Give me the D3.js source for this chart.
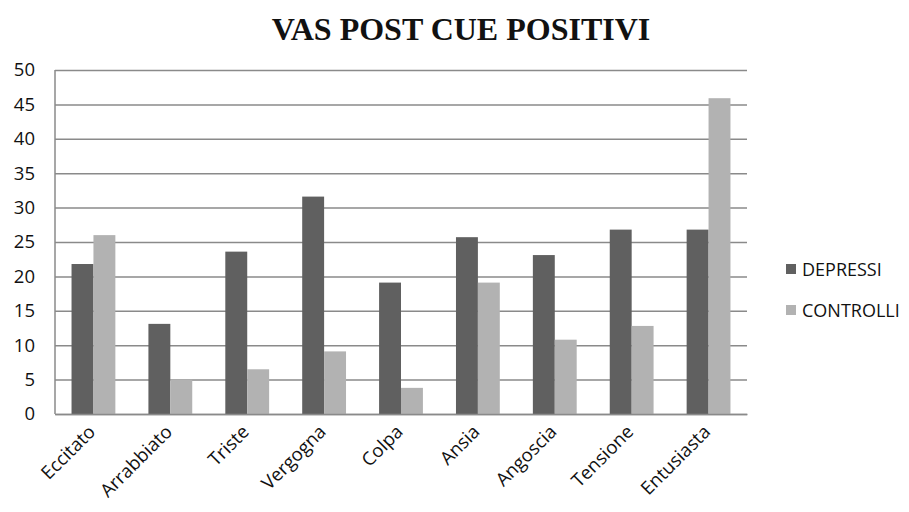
<!DOCTYPE html>
<html><head><meta charset="utf-8">
<script src="https://cdn.jsdelivr.net/npm/d3@7"></script>
<style>body{margin:0;background:#fff}</style>
</head><body><svg id="c" width="909" height="512"></svg>
<script>
const categories = ["Eccitato","Arrabbiato","Triste","Vergogna","Colpa","Ansia","Angoscia","Tensione","Entusiasta"];
const seriesNames = ["DEPRESSI","CONTROLLI"];
const depressi = [21.8,13.1,23.6,31.6,19.1,25.7,23.1,26.8,26.8];
const controlli = [26.0,5.0,6.5,9.1,3.8,19.1,10.8,12.8,45.9];
const yTicks = [0,5,10,15,20,25,30,35,40,45,50];
const colors = ["#606060","#b2b2b2"];

const svg = d3.select("#c");
const m = {l:55, r:162, t:70, b:98};
const W = 909, H = 512;
const FONT = "Open Sans";
const x = d3.scaleBand().domain(categories).range([m.l, W-m.r]).paddingInner(0.43).paddingOuter(0.215);
const xs = d3.scaleBand().domain(seriesNames).range([0, x.bandwidth()]);
const y = d3.scaleLinear().domain([0,50]).range([H-m.b, m.t]);

svg.append("text").attr("x",461).attr("y",40).attr("text-anchor","middle")
  .attr("font-family","Liberation Serif").attr("font-weight","bold").attr("font-size",32)
  .attr("fill","#111").text("VAS POST CUE POSITIVI");

const ga = svg.append("g").attr("transform",`translate(${m.l},0)`)
  .call(d3.axisLeft(y).tickValues(yTicks).tickSize(-(W-m.r-m.l)).tickPadding(20));
ga.select(".domain").remove();
ga.selectAll(".tick line").attr("stroke","#8a8a8a").attr("stroke-width",1.5);
ga.selectAll(".tick text").attr("font-family",FONT).attr("font-size",18.5).attr("fill","#111");
svg.append("line").attr("x1",m.l).attr("x2",m.l).attr("y1",y(50)).attr("y2",y(0)).attr("stroke","#8a8a8a").attr("stroke-width",1.5);

const data = [depressi, controlli];
const g = svg.append("g");
categories.forEach((c,i)=>{
  seriesNames.forEach((s,j)=>{
    g.append("rect").attr("x",x(c)+xs(s)).attr("width",xs.bandwidth())
      .attr("y",y(data[j][i])).attr("height",y(0)-y(data[j][i])).attr("fill",colors[j]);
  });
});

const gx = svg.append("g").attr("transform",`translate(0,${y(0)})`)
  .call(d3.axisBottom(x).tickSize(0).tickPadding(0));
gx.select(".domain").attr("stroke","#8a8a8a").attr("stroke-width",1.5);
gx.selectAll(".tick text").attr("font-family",FONT).attr("font-size",18.5).attr("fill","#111")
  .attr("text-anchor","end").attr("dy",0).attr("transform","translate(3,19) rotate(-45)");

const lg = svg.append("g");
seriesNames.forEach((s,j)=>{
  const yy = 269 + j*41;
  lg.append("rect").attr("x",786).attr("y",yy-5).attr("width",10).attr("height",10).attr("fill",colors[j]);
  lg.append("text").attr("x",802).attr("y",yy+7).attr("font-family",FONT).attr("font-size",18).attr("fill","#111").text(s);
});
</script></body></html>
